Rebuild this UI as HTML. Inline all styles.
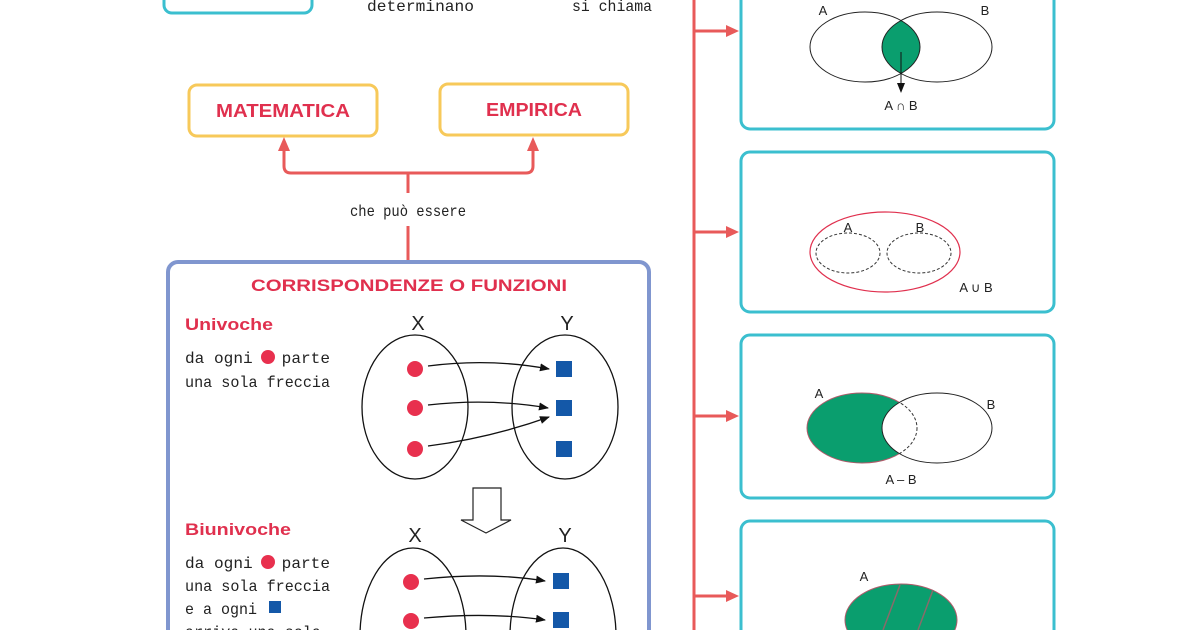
<!DOCTYPE html>
<html><head><meta charset="utf-8"><style>
html,body{margin:0;padding:0;background:#fff;width:1200px;height:630px;overflow:hidden}
svg{display:block}
.t{font-family:"Liberation Sans",sans-serif;font-weight:bold;fill:#e0304e}
.m{font-family:"Liberation Mono",monospace;font-size:16px;fill:#222}
.s{font-family:"Liberation Sans",sans-serif;fill:#222}
</style></head><body>
<svg width="1200" height="630" viewBox="0 0 1200 630" xmlns="http://www.w3.org/2000/svg">
<defs>
<marker id="ar" markerWidth="10" markerHeight="8" refX="9" refY="4" orient="auto" markerUnits="userSpaceOnUse"><path d="M0,0 L10,4 L0,8 Z" fill="#111"/></marker>
<clipPath id="cA1"><ellipse cx="865" cy="47" rx="55" ry="35"/></clipPath>
<clipPath id="cB3"><ellipse cx="937" cy="428" rx="55" ry="35"/></clipPath>
<clipPath id="pg"><rect x="0" y="0" width="1200" height="630"/></clipPath>
</defs>
<g clip-path="url(#pg)">
<rect x="164" y="-20" width="148" height="33" rx="8" fill="none" stroke="#3bbfcf" stroke-width="3"/>
<text x="367" y="11" class="m" font-size="16" textLength="107" lengthAdjust="spacingAndGlyphs">determinano</text>
<text x="572" y="11" class="m" font-size="16" textLength="80" lengthAdjust="spacingAndGlyphs">si chiama</text>

<line x1="694" y1="0" x2="694" y2="630" stroke="#e85a5a" stroke-width="3"/>
<g stroke="#e85a5a" stroke-width="3" fill="#e85a5a">
<line x1="694" y1="31" x2="728" y2="31"/><path d="M726,25 L739,31 L726,37Z" stroke="none"/>
<line x1="694" y1="232" x2="728" y2="232"/><path d="M726,226 L739,232 L726,238Z" stroke="none"/>
<line x1="694" y1="416" x2="728" y2="416"/><path d="M726,410 L739,416 L726,422Z" stroke="none"/>
<line x1="694" y1="596" x2="728" y2="596"/><path d="M726,590 L739,596 L726,602Z" stroke="none"/>
</g>

<rect x="189" y="85" width="188" height="51" rx="8" fill="none" stroke="#f7c95a" stroke-width="3"/>
<text x="283" y="117" text-anchor="middle" class="t" font-size="18" textLength="134" lengthAdjust="spacingAndGlyphs">MATEMATICA</text>
<rect x="440" y="84" width="188" height="51" rx="8" fill="none" stroke="#f7c95a" stroke-width="3"/>
<text x="534" y="116" text-anchor="middle" class="t" font-size="18" textLength="96" lengthAdjust="spacingAndGlyphs">EMPIRICA</text>

<g stroke="#e85a5a" stroke-width="3" fill="none">
<path d="M284,150 L284,166 Q284,173 291,173 L526,173 Q533,173 533,166 L533,150"/>
<line x1="408" y1="173" x2="408" y2="193"/>
<line x1="408" y1="226" x2="408" y2="260"/>
</g>
<path d="M278,151 L284,137 L290,151Z M527,151 L533,137 L539,151Z" fill="#e85a5a"/>
<text x="408" y="216" text-anchor="middle" class="m" font-size="16" textLength="116" lengthAdjust="spacingAndGlyphs">che può essere</text>

<rect x="168" y="262" width="481" height="390" rx="10" fill="none" stroke="#8096cf" stroke-width="4"/>
<text x="409" y="291" text-anchor="middle" class="t" font-size="17" textLength="316" lengthAdjust="spacingAndGlyphs">CORRISPONDENZE O FUNZIONI</text>

<text x="185" y="330" class="t" font-size="17" textLength="88" lengthAdjust="spacingAndGlyphs">Univoche</text>
<text x="185" y="363" class="m" font-size="17" textLength="145" lengthAdjust="spacingAndGlyphs" xml:space="preserve">da ogni   parte</text>
<circle cx="268" cy="357" r="7" fill="#e8304e"/>
<text x="185" y="387" class="m" font-size="17" textLength="145" lengthAdjust="spacingAndGlyphs">una sola freccia</text>

<text x="418" y="330" text-anchor="middle" class="s" font-size="20">X</text>
<text x="567" y="330" text-anchor="middle" class="s" font-size="20">Y</text>
<ellipse cx="415" cy="407" rx="53" ry="72" fill="none" stroke="#111" stroke-width="1.3"/>
<ellipse cx="565" cy="407" rx="53" ry="72" fill="none" stroke="#111" stroke-width="1.3"/>
<g fill="#e8304e"><circle cx="415" cy="369" r="8"/><circle cx="415" cy="408" r="8"/><circle cx="415" cy="449" r="8"/></g>
<g fill="#1458a8"><rect x="556" y="361" width="16" height="16"/><rect x="556" y="400" width="16" height="16"/><rect x="556" y="441" width="16" height="16"/></g>
<g fill="none" stroke="#111" stroke-width="1.3">
<path d="M428,366 Q490,358 549,369" marker-end="url(#ar)"/>
<path d="M428,405 Q490,398 548,408" marker-end="url(#ar)"/>
<path d="M428,446 Q490,438 549,417" marker-end="url(#ar)"/>
</g>
<path d="M473,488 L501,488 L501,520 L511,520 L486,533 L461,520 L473,520 Z" fill="#fff" stroke="#222" stroke-width="1.2"/>

<text x="185" y="535" class="t" font-size="17" textLength="106" lengthAdjust="spacingAndGlyphs">Biunivoche</text>
<text x="185" y="568" class="m" font-size="17" textLength="145" lengthAdjust="spacingAndGlyphs" xml:space="preserve">da ogni   parte</text>
<circle cx="268" cy="562" r="7" fill="#e8304e"/>
<text x="185" y="591" class="m" font-size="17" textLength="145" lengthAdjust="spacingAndGlyphs">una sola freccia</text>
<text x="185" y="614" class="m" font-size="17" textLength="72" lengthAdjust="spacingAndGlyphs">e a ogni</text>
<rect x="269" y="601" width="12" height="12" fill="#1458a8"/>
<text x="185" y="637" class="m" font-size="17" textLength="136" lengthAdjust="spacingAndGlyphs">arriva una sola</text>

<text x="415" y="542" text-anchor="middle" class="s" font-size="20">X</text>
<text x="565" y="542" text-anchor="middle" class="s" font-size="20">Y</text>
<ellipse cx="413" cy="636" rx="53" ry="88" fill="none" stroke="#111" stroke-width="1.3"/>
<ellipse cx="563" cy="636" rx="53" ry="88" fill="none" stroke="#111" stroke-width="1.3"/>
<g fill="#e8304e"><circle cx="411" cy="582" r="8"/><circle cx="411" cy="621" r="8"/></g>
<g fill="#1458a8"><rect x="553" y="573" width="16" height="16"/><rect x="553" y="612" width="16" height="16"/></g>
<g fill="none" stroke="#111" stroke-width="1.3">
<path d="M424,579 Q490,572 545,581" marker-end="url(#ar)"/>
<path d="M424,618 Q490,612 545,620" marker-end="url(#ar)"/>
</g>

<g fill="none" stroke="#3bbfcf" stroke-width="3">
<rect x="741" y="-20" width="313" height="149" rx="9"/>
<rect x="741" y="152" width="313" height="160" rx="9"/>
<rect x="741" y="335" width="313" height="163" rx="9"/>
<rect x="741" y="521" width="313" height="140" rx="9"/>
</g>

<ellipse cx="937" cy="47" rx="55" ry="35" fill="#0a9e6e" clip-path="url(#cA1)"/>
<ellipse cx="865" cy="47" rx="55" ry="35" fill="none" stroke="#222" stroke-width="1"/>
<ellipse cx="937" cy="47" rx="55" ry="35" fill="none" stroke="#222" stroke-width="1"/>
<line x1="901" y1="52" x2="901" y2="84" stroke="#111" stroke-width="1"/>
<path d="M897,83 L905,83 L901,93 Z" fill="#111"/>
<text x="823" y="15" class="s" font-size="13" text-anchor="middle">A</text>
<text x="985" y="15" class="s" font-size="13" text-anchor="middle">B</text>
<text x="901" y="110" class="s" font-size="13" text-anchor="middle">A ∩ B</text>

<ellipse cx="885" cy="252" rx="75" ry="40" fill="none" stroke="#e0304e" stroke-width="1.2"/>
<ellipse cx="848" cy="253" rx="32" ry="20" fill="none" stroke="#333" stroke-width="1" stroke-dasharray="3,2"/>
<ellipse cx="919" cy="253" rx="32" ry="20" fill="none" stroke="#333" stroke-width="1" stroke-dasharray="3,2"/>
<text x="848" y="232" class="s" font-size="13" text-anchor="middle">A</text>
<text x="920" y="232" class="s" font-size="13" text-anchor="middle">B</text>
<text x="976" y="292" class="s" font-size="13" text-anchor="middle">A ∪ B</text>

<ellipse cx="862" cy="428" rx="55" ry="35" fill="#0a9e6e" stroke="#b05a6a" stroke-width="1"/>
<ellipse cx="937" cy="428" rx="55" ry="35" fill="#fff" stroke="#222" stroke-width="1"/>
<ellipse cx="862" cy="428" rx="55" ry="35" fill="none" stroke="#333" stroke-width="1" stroke-dasharray="3,2" clip-path="url(#cB3)"/>
<text x="819" y="398" class="s" font-size="13" text-anchor="middle">A</text>
<text x="991" y="409" class="s" font-size="13" text-anchor="middle">B</text>
<text x="901" y="484" class="s" font-size="13" text-anchor="middle">A – B</text>

<ellipse cx="901" cy="620" rx="56" ry="36" fill="#0a9e6e" stroke="#b05a6a" stroke-width="1"/>
<line x1="900" y1="585" x2="883" y2="630" stroke="#8a6a6a" stroke-width="1.5"/>
<line x1="933" y1="590" x2="918" y2="630" stroke="#8a6a6a" stroke-width="1.5"/>
<text x="864" y="581" class="s" font-size="13" text-anchor="middle">A</text>
</g>
</svg>
</body></html>
